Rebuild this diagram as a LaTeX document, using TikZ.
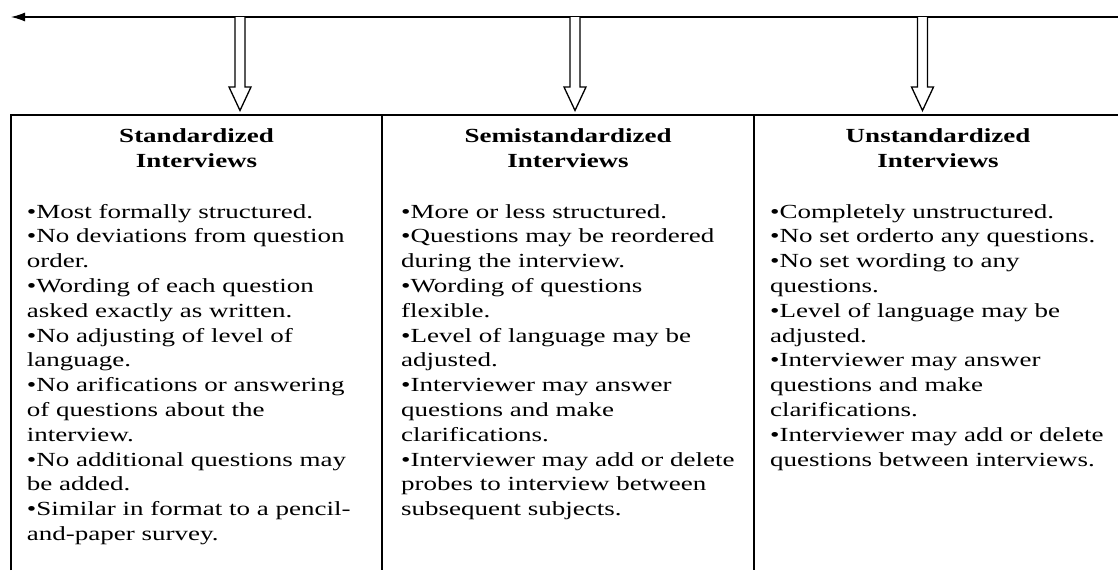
\documentclass[tikz,border=0pt]{standalone}
\usepackage{fontspec}
\setmainfont{Liberation Serif}[FakeStretch=1.35]
\usetikzlibrary{arrows.meta}

\tikzset{
    heading/.style={font=\fontsize{20}{25}\selectfont\bfseries, align=center, anchor=base, inner sep=0pt},
    points/.style={font=\fontsize{20}{24.8}\selectfont, align=left, anchor=base west, inner sep=0pt},
    frame/.style={line width=2pt},
    pics/downarrow/.style={code={
        \draw[line width=1.3pt, fill=white] (-5,0) -- (-5,70) -- (-11,70) -- (0,93.5) -- (11,70) -- (5,70) -- (5,0);
    }}
}

\begin{document}
\begin{tikzpicture}[x=1pt, y=-1pt]
    \useasboundingbox (0,0) rectangle (1118,570);

    % time line with the three kinds hanging off it
    \coordinate (start) at (1118,17);
    \coordinate (end) at (11,17);
    \draw[line width=1.3pt, -{Latex[length=14pt, width=9pt]}] (start) -- (end);

    \coordinate (std) at (240,17);
    \coordinate (semi) at (575,17);
    \coordinate (unstd) at (922.5,17);

    % the three columns
    \draw[frame] (11,570) -- (11,115) -- (1118,115);
    \draw[frame] (382,115) -- (382,570);
    \draw[frame] (754,115) -- (754,570);

    \pic at (std) {downarrow};
    \pic at (semi) {downarrow};
    \pic at (unstd) {downarrow};

    % base of a multi-line node = its last line
    \node[heading] (stdhead) at (196.5,167) {Standardized\\Interviews};
    \node[heading] (semihead) at (568,167) {Semistandardized\\Interviews};
    \node[heading] (unstdhead) at (938,167) {Unstandardized\\Interviews};

    \node[points] (stdtext) at (26.7,540.4) {•Most formally structured.\\
        •No deviations from question\\ order.\\
        •Wording of each question\\ asked exactly as written.\\
        •No adjusting of level of\\ language.\\
        •No arifications or answering\\ of questions about the\\ interview.\\
        •No additional questions may\\ be added.\\
        •Similar in format to a pencil-\\ and-paper survey.};
    \node[points] (semitext) at (401,515.6) {•More or less structured.\\
        •Questions may be reordered\\ during the interview.\\
        •Wording of questions\\ flexible.\\
        •Level of language may be\\ adjusted.\\
        •Interviewer may answer\\ questions and make\\ clarifications.\\
        •Interviewer may add or delete\\ probes to interview between\\ subsequent subjects.};
    \node[points] (unstdtext) at (770,466) {•Completely unstructured.\\
        •No set orderto any questions.\\
        •No set wording to any\\ questions.\\
        •Level of language may be\\ adjusted.\\
        •Interviewer may answer\\ questions and make\\ clarifications.\\
        •Interviewer may add or delete\\ questions between interviews.};
\end{tikzpicture}
\end{document}
